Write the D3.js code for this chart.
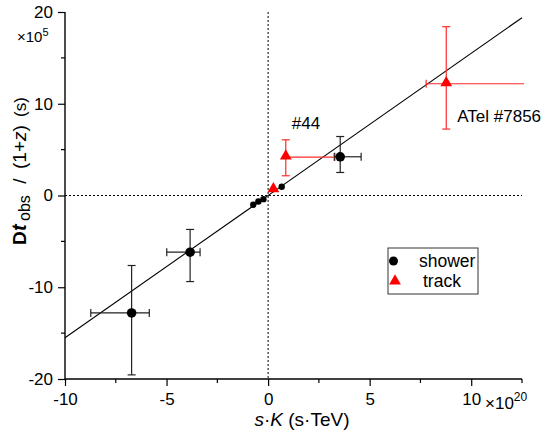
<!DOCTYPE html>
<html><head><meta charset="utf-8">
<script src="https://cdn.jsdelivr.net/npm/d3@7"></script>
<style>body{margin:0;background:#fff}text{font-family:"Liberation Sans",Arial,sans-serif}</style>
</head><body><svg id="c" width="555" height="432"></svg>
<script>
// shower points: x, y (units: 1e20 s·TeV, 1e5 s) with error extents
const showerX = [-6.72, -3.84, 3.55, -0.73, -0.48, -0.23, 0.67];
const showerY = [-12.8, -6.18, 4.22, -1.0, -0.65, -0.4, 0.95];
const showerXLo = [-8.73, -4.99, 3.28, null, null, null, null];
const showerXHi = [-5.85, -3.35, 4.58, null, null, null, null];
const showerYLo = [-19.55, -9.38, 2.51, null, null, null, null];
const showerYHi = [-7.63, -3.7, 6.43, null, null, null, null];
// track points
const trackX = [0.87, 8.77, 0.26];
const trackY = [4.19, 12.18, 0.62];
const trackXLo = [0.87, 7.78, null];
const trackXHi = [3.25, 12.6, null];
const trackYLo = [2.15, 7.24, null];
const trackYHi = [6.07, 18.4, null];
const trackLabels = ["#44", "ATel #7856", ""];
// fit line y = slope * x + intercept
const fitSlope = 1.55, fitIntercept = 0.0;
const xTicks = [-10, -5, 0, 5, 10];
const xMinor = [-7.5, -2.5, 2.5, 7.5, 12.5];
const yTicks = [-20, -10, 0, 10, 20];
const yMinor = [-15, -5, 5, 15];

const svg = d3.select("#c");
const x = d3.scaleLinear().domain([-10, 12.5]).range([65, 522]);
const y = d3.scaleLinear().domain([-20, 20]).range([379, 12]);

// reference dashed lines
svg.append("line").attr("x1", x(0)).attr("x2", x(0)).attr("y1", y(20)).attr("y2", y(-20))
  .attr("stroke", "#000").attr("stroke-width", 1).attr("stroke-dasharray", "2,2");
svg.append("line").attr("x1", x(-10)).attr("x2", x(12.5)).attr("y1", y(0)).attr("y2", y(0))
  .attr("stroke", "#000").attr("stroke-width", 1).attr("stroke-dasharray", "2,2");

// fit line
svg.append("line").attr("x1", x(-10)).attr("y1", y(fitSlope * -10 + fitIntercept))
  .attr("x2", x(12.5)).attr("y2", y(fitSlope * 12.5 + fitIntercept))
  .attr("stroke", "#000").attr("stroke-width", 1.1);

function errBars(xs, ys, xlo, xhi, ylo, yhi, color) {
  const g = svg.append("g").attr("stroke", color).attr("stroke-width", 1.2).attr("fill", "none");
  xs.forEach((xv, i) => {
    if (xlo[i] != null) {
      g.append("line").attr("x1", x(xlo[i])).attr("x2", x(xhi[i])).attr("y1", y(ys[i])).attr("y2", y(ys[i]));
      if (xlo[i] !== xv) g.append("line").attr("x1", x(xlo[i])).attr("x2", x(xlo[i])).attr("y1", y(ys[i]) - 4).attr("y2", y(ys[i]) + 4);
      if (xhi[i] < 12.5) g.append("line").attr("x1", x(xhi[i])).attr("x2", x(xhi[i])).attr("y1", y(ys[i]) - 4).attr("y2", y(ys[i]) + 4);
    }
    if (ylo[i] != null) {
      g.append("line").attr("x1", x(xv)).attr("x2", x(xv)).attr("y1", y(ylo[i])).attr("y2", y(yhi[i]));
      [ylo[i], yhi[i]].forEach(v => g.append("line").attr("x1", x(xv) - 4).attr("x2", x(xv) + 4).attr("y1", y(v)).attr("y2", y(v)));
    }
  });
}
errBars(trackX, trackY, trackXLo, trackXHi, trackYLo, trackYHi, "#ff2a2a");
errBars(showerX, showerY, showerXLo, showerXHi, showerYLo, showerYHi, "#222");

const tri = d3.symbol().type(d3.symbolTriangle).size(60);
svg.append("g").selectAll("path").data(trackX).join("path")
  .attr("d", tri).attr("fill", "#ff0000")
  .attr("transform", (d, i) => `translate(${x(d)},${y(trackY[i]) - 1})`);
svg.append("g").selectAll("circle").data(showerX).join("circle")
  .attr("cx", d => x(d)).attr("cy", (d, i) => y(showerY[i]))
  .attr("r", (d, i) => showerXLo[i] == null ? 3.2 : 4.8).attr("fill", "#000");

// labels
svg.append("text").attr("x", x(trackX[0]) + 6).attr("y", y(trackY[0]) - 28).attr("font-size", 17).text(trackLabels[0]);
svg.append("text").attr("x", x(trackX[1]) + 11).attr("y", y(trackY[1]) + 38).attr("font-size", 17).text(trackLabels[1]);

// axes
const fmt = d => String(d);
const xAxis = d3.axisBottom(x).tickValues(xTicks).tickSize(7).tickFormat(fmt);
const gx = svg.append("g").attr("transform", `translate(0,${y(-20)})`).call(xAxis);
gx.selectAll(".tick line").attr("stroke-width", 1.2);
gx.select(".domain").attr("stroke-width", 1.4).attr("d", `M${x(-10)},0H${x(12.5)}`);
gx.selectAll("text").attr("font-size", 17).attr("dy", 0).attr("y", 26).attr("fill", "#000")
  .attr("font-family", "Liberation Sans, Arial, sans-serif");
gx.selectAll(".minor").data(xMinor).join("line").attr("class", "minor")
  .attr("x1", d => x(d)).attr("x2", d => x(d)).attr("y1", 0).attr("y2", 4).attr("stroke", "#000").attr("stroke-width", 1.2);

const yAxis = d3.axisLeft(y).tickValues(yTicks).tickSize(7).tickFormat(fmt);
const gy = svg.append("g").attr("transform", `translate(${x(-10)},0)`).call(yAxis);
gy.selectAll(".tick line").attr("stroke-width", 1.2);
gy.select(".domain").attr("stroke-width", 1.4).attr("d", `M0,${y(20)}V${y(-20)}`);
gy.selectAll("text").attr("font-size", 17).attr("x", -12).attr("fill", "#000")
  .attr("font-family", "Liberation Sans, Arial, sans-serif");
gy.selectAll(".minor").data(yMinor).join("line").attr("class", "minor")
  .attr("y1", d => y(d)).attr("y2", d => y(d)).attr("x1", 0).attr("x2", -4).attr("stroke", "#000").attr("stroke-width", 1.2);

// multipliers
const m1 = svg.append("text").attr("x", 17).attr("y", 42).attr("font-size", 15);
m1.append("tspan").text("×10");
m1.append("tspan").attr("font-size", 11).attr("dy", -6).text("5");
const m2 = svg.append("text").attr("x", 485).attr("y", 409).attr("font-size", 17);
m2.append("tspan").text("×10");
m2.append("tspan").attr("font-size", 12).attr("dy", -8).text("20");

// x title
const xt = svg.append("text").attr("x", 302).attr("y", 426).attr("font-size", 19).attr("text-anchor", "middle");
xt.append("tspan").attr("font-style", "italic").text("s");
xt.append("tspan").text("·");
xt.append("tspan").attr("font-style", "italic").text("K");
xt.append("tspan").text(" (s·TeV)");

// y title (rotated; x positions measured upward from the bottom end)
const yt = svg.append("text").attr("transform", "translate(26,245) rotate(-90)").attr("font-size", 19);
yt.append("tspan").attr("x", 0).attr("font-weight", "bold").attr("font-size", 19).text("D");
yt.append("tspan").attr("x", 14).attr("font-weight", "bold").attr("font-style", "italic").attr("font-size", 20).text("t");
yt.append("tspan").attr("x", 24).attr("font-size", 16).attr("dy", 4).text("obs");
yt.append("tspan").attr("x", 56).attr("dy", -4).text(" /");
yt.append("tspan").attr("x", 76).text("(1+");
yt.append("tspan").attr("font-style", "italic").text("z");
yt.append("tspan").text(")");
yt.append("tspan").attr("x", 128).attr("font-size", 17).text("(s)");

// legend
const lg = svg.append("g");
lg.append("rect").attr("x", 388).attr("y", 248).attr("width", 90).attr("height", 46)
  .attr("fill", "#fff").attr("stroke", "#333").attr("stroke-width", 1);
lg.append("circle").attr("cx", 393.5).attr("cy", 261).attr("r", 4.5).attr("fill", "#000");
lg.append("text").attr("x", 419).attr("y", 267).attr("font-size", 17.5).text("shower");
lg.append("path").attr("d", tri).attr("fill", "#ff0000").attr("transform", "translate(395,281)");
lg.append("text").attr("x", 423).attr("y", 287).attr("font-size", 17.5).text("track");
</script></body></html>
